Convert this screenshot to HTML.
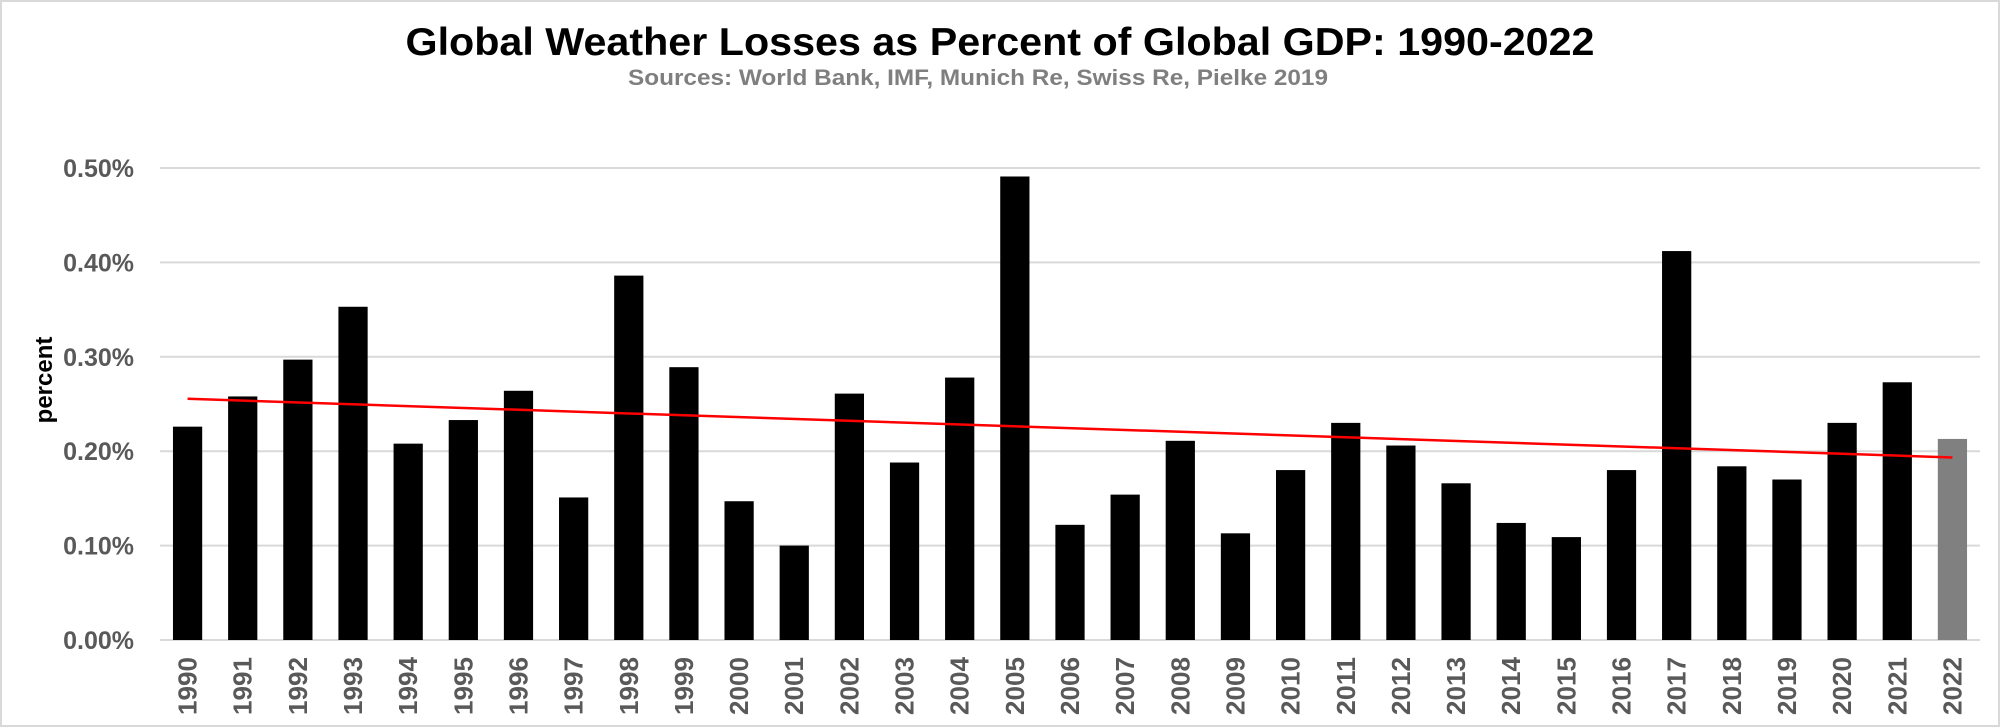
<!DOCTYPE html>
<html><head><meta charset="utf-8"><style>
html,body{margin:0;padding:0;background:#fff;}
svg{display:block;font-family:"Liberation Sans",sans-serif;}
</style></head><body>
<svg id="chart" width="2000" height="727" viewBox="0 0 2000 727">
<rect x="1" y="1" width="1998" height="725" fill="#fff" stroke="#d9d9d9" stroke-width="2"/>
<text x="1000" y="55" text-anchor="middle" font-size="39" font-weight="bold" fill="#000" textLength="1189" lengthAdjust="spacingAndGlyphs">Global Weather Losses as Percent of Global GDP: 1990-2022</text>
<text x="978" y="85" text-anchor="middle" font-size="22" font-weight="bold" fill="#7f7f7f" textLength="700" lengthAdjust="spacingAndGlyphs">Sources: World Bank, IMF, Munich Re, Swiss Re, Pielke 2019</text>
<text transform="translate(52,380) rotate(-90)" text-anchor="middle" font-size="24" font-weight="bold" fill="#000">percent</text>
<g id="grid"></g><g id="bars"></g><g id="trend"></g><g id="ylabels"></g><g id="xlabels"></g>
</svg>
<script>
const years = ["1990","1991","1992","1993","1994","1995","1996","1997","1998","1999","2000","2001","2002","2003","2004","2005","2006","2007","2008","2009","2010","2011","2012","2013","2014","2015","2016","2017","2018","2019","2020","2021","2022"];
const losses = [0.226,0.258,0.297,0.353,0.208,0.233,0.264,0.151,0.386,0.289,0.147,0.100,0.261,0.188,0.278,0.491,0.122,0.154,0.211,0.113,0.180,0.230,0.206,0.166,0.124,0.109,0.180,0.412,0.184,0.170,0.230,0.273,0.213];
const yTicks = [0,0.1,0.2,0.3,0.4,0.5];
const yTickLabels = ["0.00%","0.10%","0.20%","0.30%","0.40%","0.50%"];

const NS="http://www.w3.org/2000/svg";
const L=160,R=1980,Y0=640,PX=944;
const band=(R-L)/years.length;
const xC=i=>L+band*(i+0.5);
const yS=v=>Y0-v*PX;
function mk(tag,attrs,parent){const e=document.createElementNS(NS,tag);for(const k in attrs)e.setAttribute(k,attrs[k]);document.getElementById(parent).appendChild(e);return e;}

yTicks.forEach((t,i)=>{
  const g=mk('line',{x1:L,x2:R,y1:yS(t),y2:yS(t),stroke:'#d9d9d9','stroke-width':2},'grid');
  
  
  const tx=mk('text',{x:134,y:yS(t)+9,'text-anchor':'end','font-size':25,'font-weight':'bold',fill:'#595959'},'ylabels');
  tx.textContent=yTickLabels[i];
  
  
});
const bw=band*0.53;
losses.forEach((v,i)=>{
  const b=mk('rect',{x:xC(i)-bw/2,y:yS(v),width:bw,height:Y0-yS(v),fill:years[i]==="2022"?'#808080':'#000'},'bars');
  
  
  const t=mk('text',{transform:`translate(${xC(i)+9},715) rotate(-90)`,'font-size':26,'font-weight':'bold',fill:'#595959',textLength:58,lengthAdjust:'spacingAndGlyphs'},'xlabels');
  t.textContent=years[i];
  
  
});
const n=losses.length;let sx=0,sy=0,sxx=0,sxy=0;
losses.forEach((v,i)=>{sx+=i;sy+=v;sxx+=i*i;sxy+=i*v;});
const m=(n*sxy-sx*sy)/(n*sxx-sx*sx), c=(sy-m*sx)/n;
const tl=mk('line',{x1:xC(0),y1:yS(c),x2:xC(n-1),y2:yS(c+m*(n-1)),stroke:'#ff0000','stroke-width':2.5},'trend');


</script>
</body></html>
